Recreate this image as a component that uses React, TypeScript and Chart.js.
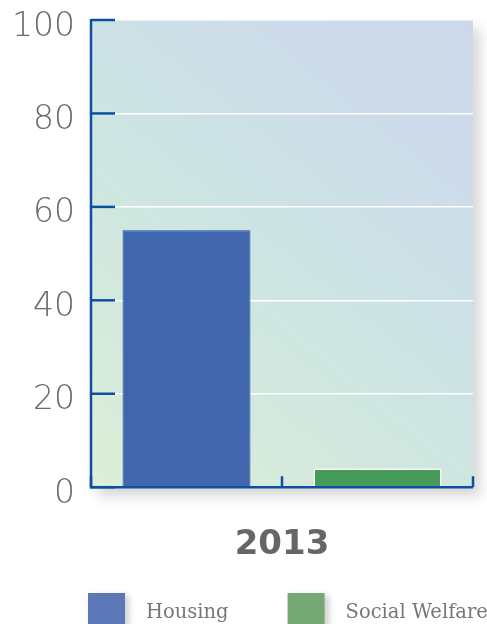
import React, { useEffect, useRef } from "react";
import { Chart, registerables } from "chart.js";

Chart.register(...registerables);

const categories = ["Housing", "Social Welfare"];
const housingValues = [55, null];
const welfareValues = [null, 4];
const yearLabel = "2013";
const yTicks = [0, 20, 40, 60, 80, 100];

const AXIS_BLUE = "#0d50a0";

const decor = {
  id: "decor",
  beforeDraw(chart: any) {
    const { ctx, chartArea: a } = chart;
    ctx.save();
    ctx.shadowColor = "rgba(0,0,0,0.16)";
    ctx.shadowBlur = 12;
    ctx.shadowOffsetX = 7;
    ctx.shadowOffsetY = 9;
    const g = ctx.createLinearGradient(a.left, a.bottom, a.right, a.top);
    g.addColorStop(0, "#dcefd7");
    g.addColorStop(0.5, "#cce4e3");
    g.addColorStop(0.8, "#cddbea");
    g.addColorStop(1, "#cdd9ea");
    ctx.fillStyle = g;
    ctx.fillRect(a.left, a.top, a.width, a.height);
    ctx.restore();
  },
  afterDatasetsDraw(chart: any) {
    const { ctx, chartArea: a, scales } = chart;
    const y = scales.y;
    ctx.save();
    ctx.strokeStyle = AXIS_BLUE;
    ctx.lineWidth = 2.5;
    ctx.lineCap = "butt";
    ctx.beginPath();
    ctx.moveTo(a.left, a.top - 1);
    ctx.lineTo(a.left, a.bottom + 1);
    ctx.stroke();
    ctx.beginPath();
    ctx.moveTo(a.left - 1, a.bottom);
    ctx.lineTo(a.right, a.bottom);
    ctx.stroke();
    yTicks.forEach((v) => {
      const py = y.getPixelForValue(v);
      ctx.beginPath();
      ctx.moveTo(a.left, py);
      ctx.lineTo(a.left + 24, py);
      ctx.stroke();
    });
    const n = categories.length;
    for (let i = 0; i <= n; i++) {
      const px = a.left + (a.width * i) / n;
      ctx.beginPath();
      ctx.moveTo(px, a.bottom);
      ctx.lineTo(px, a.bottom - 11);
      ctx.stroke();
    }
    ctx.restore();
  },
  afterDraw(chart: any) {
    const { ctx } = chart;
    const legendColors = ["#5b77b8", "#76a874"];
    ctx.save();
    ctx.font = "19.5px 'DejaVu Serif'";
    ctx.textBaseline = "alphabetic";
    let x = 88;
    chart.data.datasets.forEach((ds: any, i: number) => {
      ctx.save();
      ctx.shadowColor = "rgba(0,0,0,0.18)";
      ctx.shadowBlur = 6;
      ctx.shadowOffsetX = 4;
      ctx.shadowOffsetY = 2;
      ctx.fillStyle = legendColors[i];
      ctx.fillRect(x, 593, 37, 34);
      ctx.restore();
      ctx.fillStyle = "#777777";
      ctx.fillText(ds.label, x + 58, 618);
      x = x + 58 + ctx.measureText(ds.label).width + 59;
    });
    ctx.restore();
  },
};

export default function App() {
  const ref = useRef<HTMLCanvasElement>(null);
  useEffect(() => {
    document.body.style.margin = "0";
    const chart = new Chart(ref.current!, {
      type: "bar",
      data: {
        labels: categories,
        datasets: [
          {
            label: "Housing",
            data: housingValues,
            backgroundColor: "#4166ae",
            borderColor: "#1c52a0",
            borderWidth: 1,
          },
          {
            label: "Social Welfare",
            data: welfareValues,
            backgroundColor: "#469a5a",
            borderColor: "#ffffff",
            borderWidth: 1.5,
          },
        ] as any,
      },
      options: {
        animation: false,
        responsive: false,
        maintainAspectRatio: false,
        datasets: { bar: { barPercentage: 0.67, categoryPercentage: 1 } } as any,
        layout: { padding: { left: 0, right: 14, top: 20, bottom: 58 } },
        plugins: { legend: { display: false }, tooltip: { enabled: false } },
        scales: {
          x: {
            stacked: true,
            grid: { display: false },
            border: { display: false },
            ticks: { display: false },
            title: {
              display: true,
              text: yearLabel,
              color: "#666666",
              font: { family: "'DejaVu Sans'", size: 34, weight: "bold" },
              padding: { top: 30, bottom: 0 },
            },
          },
          y: {
            stacked: true,
            min: 0,
            max: 100,
            afterBuildTicks: (s: any) => {
              s.ticks = yTicks.map((v) => ({ value: v }));
            },
            afterFit: (s: any) => {
              s.width = 91;
              s.paddingTop = 0;
              s.paddingBottom = 0;
            },
            grid: { color: "#ffffff", lineWidth: 1.5, drawTicks: false },
            border: { display: false },
            ticks: {
              color: "#6a6a6a",
              padding: 16,
              labelOffset: 7,
              font: { family: "'DejaVu Sans'", size: 33, weight: "200", lineHeight: 0.6 },
            },
          },
        },
      },
      plugins: [decor],
    });
    return () => chart.destroy();
  }, []);
  return <canvas ref={ref} width={487} height={624} style={{ display: "block", width: 487, height: 624 }} />;
}
